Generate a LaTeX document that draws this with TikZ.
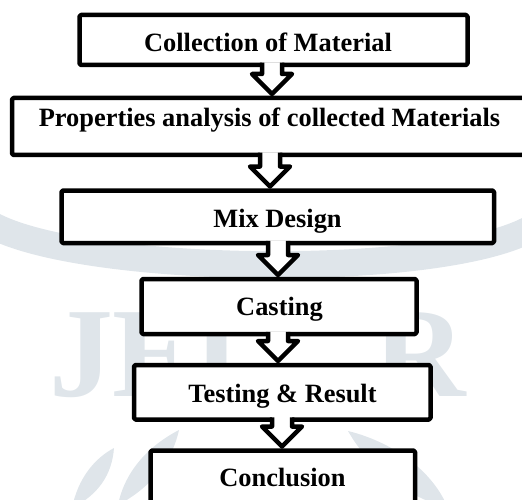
\documentclass[tikz,border=0pt]{standalone}
\usepackage{fontspec}
\setmainfont{Liberation Serif}
\usetikzlibrary{calc}

\definecolor{wmark}{HTML}{DFE5EA}

\tikzset{
  stepbox/.style={draw=black, line width=4.5pt, fill=white, rounded corners=1.5pt,
                  line join=round, inner sep=0pt, outer sep=0pt},
  steptext/.style={anchor=base, inner sep=0pt,
                   font=\fontsize{26.4}{30}\selectfont\bfseries},
  wmletter/.style={anchor=base, inner sep=0pt, text=wmark,
                   font=\fontsize{128}{128}\selectfont\bfseries},
  wmleaf/.style={fill=wmark, draw=none},
  arrowline/.style={draw=black, line width=4.5pt, line join=round, line cap=butt},
}

% Hollow block arrow from the bottom of node #1 to the top of node #2 at x = #3
\newcommand\flowarrow[3]{%
  \coordinate (ax) at (#3,0);
  \path let \p1 = (ax |- #1.south), \p2 = (ax |- #2.north) in
    [fill=white] (\x1-10pt,\y1+2.5pt) -- (\x1-10pt,\y2+24pt) -- (\x1-20pt,\y2+24pt)
      -- (\x1,\y2+4pt) -- (\x1+20pt,\y2+24pt) -- (\x1+10pt,\y2+24pt)
      -- (\x1+10pt,\y1+2.5pt) -- cycle;
  \path let \p1 = (ax |- #1.south), \p2 = (ax |- #2.north) in
    [arrowline] (\x1-10pt,\y1+2.25pt) -- (\x1-10pt,\y2+24pt) -- (\x1-20pt,\y2+24pt)
      -- (\x1,\y2+4pt) -- (\x1+20pt,\y2+24pt) -- (\x1+10pt,\y2+24pt)
      -- (\x1+10pt,\y1+2.25pt);
}

\begin{document}
\begin{tikzpicture}[x=1pt, y=-1pt]
\useasboundingbox (0,0) rectangle (522,500);
\clip (0,0) rectangle (522,500);

% faint watermark: ring, lettering and leaves
\draw[wmark, line width=27pt] (-10,224) .. controls (80,275) and (440,280) .. (532,228);
\node[wmletter] (wj) at (81,396) {J};
\node[wmletter] (we) at (155,396) {E};
\node[wmletter] (wt) at (217,396) {T};
\node[wmletter] (wr) at (420,396) {R};
\path[wmleaf] (72,508) .. controls (78,478) and (95,458) .. (114,448)
              .. controls (112,475) and (98,495) .. (72,508) -- cycle;
\path[wmleaf] (118,505) .. controls (125,470) and (150,445) .. (179,430)
              .. controls (172,462) and (150,488) .. (118,505) -- cycle;
\path[wmleaf] (348,431) .. controls (385,440) and (430,465) .. (448,508)
              .. controls (410,498) and (370,470) .. (348,431) -- cycle;

% process boxes
\node[stepbox, minimum width=388pt,   minimum height=50pt]   (b1) at (273.5,40) {};
\node[stepbox, minimum width=523pt,   minimum height=57pt]   (b2) at (273.5,126.5) {};
\node[stepbox, minimum width=432.5pt, minimum height=52.5pt] (b3) at (277.75,216.75) {};
\node[stepbox, minimum width=275pt,   minimum height=55pt]   (b4) at (279,306.5) {};
\node[stepbox, minimum width=296.5pt, minimum height=54.5pt] (b5) at (282.25,392.25) {};
\node[stepbox, minimum width=264.5pt, minimum height=79.5pt] (b6) at (282.75,490.25) {};

% labels
\node[steptext] (t1) at (268,52)  {Collection of Material};
\node[steptext] (t2) at (269.5,127) {Properties analysis of collected Materials};
\node[steptext] (t3) at (277.5,227) {Mix Design};
\node[steptext] (t4) at (279.5,315) {Casting};
\node[steptext] (t5) at (282.5,402) {Testing \& Result};
\node[steptext] (t6) at (282.5,486) {Conclusion};

% arrows between the steps
\flowarrow{b1}{b2}{272}
\flowarrow{b2}{b3}{270}
\flowarrow{b3}{b4}{278}
\flowarrow{b4}{b5}{278}
\flowarrow{b5}{b6}{282}
\end{tikzpicture}
\end{document}
